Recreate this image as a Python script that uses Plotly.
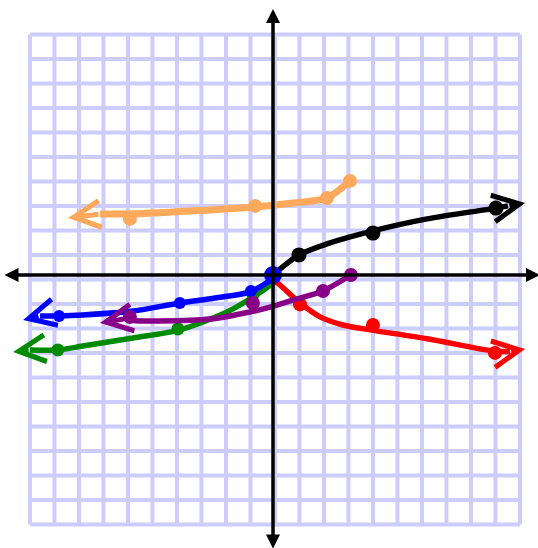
import plotly.graph_objects as go

# hand-drawn square-root curves, values in grid units
orange_x = [3.14, 2.2, 0.82, -0.73, -3.39, -5.84, -7.06]
orange_y = [3.84, 3.14, 2.94, 2.78, 2.61, 2.49, 2.49]
orange_dot_x = [3.14, 2.2, -0.73, -5.84]
orange_dot_y = [3.84, 3.14, 2.82, 2.29]
orange_tip = (-8.37, 2.33)

black_x = [0, 1.06, 2.2, 4.08, 6.29, 9.1, 9.59]
black_y = [0, 0.82, 1.27, 1.8, 2.29, 2.73, 2.82]
black_dot_x = [1.06, 4.08, 9.1]
black_dot_y = [0.82, 1.71, 2.73]
black_tip = (10.29, 2.94)

red_x = [0, 0.5, 1.1, 1.92, 2.86, 3.96, 6.29, 8.98, 9.67]
red_y = [-0.15, -0.6, -1.14, -1.71, -2.04, -2.24, -2.6, -3.1, -3.12]
red_dot_x = [0, 1.1, 4.08, 9.06]
red_dot_y = [-0.15, -1.2, -2.04, -3.18]
red_tip = (10.29, -3.02)

green_x = [0, -0.04, -0.82, -1.88, -3.8, -5.71, -7.76, -8.78, -9.92]
green_y = [0, -0.33, -0.9, -1.51, -2.24, -2.57, -2.9, -3.06, -3.06]
green_dot_x = [0, -0.82, -3.88, -8.78]
green_dot_y = [-0.1, -0.82, -2.2, -3.06]
green_tip = (-10.61, -3.14)

blue_x = [0, -0.12, -0.94, -2.37, -3.8, -5.71, -7.76, -8.73, -9.51]
blue_y = [0, -0.2, -0.69, -0.94, -1.14, -1.47, -1.63, -1.67, -1.67]
blue_dot_x = [-0.9, -3.8, -8.73]
blue_dot_y = [-0.65, -1.14, -1.67]
blue_tip = (-10.2, -1.84)

purple_x = [3.18, 2.04, 1.1, -0.12, -0.94, -2.57, -4.61, -5.71, -6.0]
purple_y = [0, -0.65, -0.94, -1.31, -1.51, -1.8, -1.88, -1.86, -1.78]
purple_dot_x = [3.18, 2.04, -0.82, -5.84]
purple_dot_y = [0, -0.65, -1.14, -1.71]
purple_tip = (-7.06, -1.96)

# pixel layout of the scanned sheet
W, H = 538, 548
S = 24.5            # px per grid unit
OX, OY = 273, 275   # where the axes cross

fig = go.Figure()


def add_curve(xs, ys, dx, dy, tip, color, width, dot_size):
    fig.add_trace(go.Scatter(x=xs, y=ys, mode="lines",
                             line=dict(color=color, width=width, shape="spline", smoothing=0.8),
                             hoverinfo="skip"))
    fig.add_trace(go.Scatter(x=dx, y=dy, mode="markers",
                             marker=dict(color=color, size=dot_size, line_width=0),
                             hoverinfo="skip"))
    fig.add_annotation(x=tip[0], y=tip[1], ax=xs[-1], ay=ys[-1],
                       xref="x", yref="y", axref="x", ayref="y", text="",
                       showarrow=True, arrowhead=5, arrowsize=1.05,
                       arrowwidth=5, arrowcolor=color)


add_curve(orange_x, orange_y, orange_dot_x, orange_dot_y, orange_tip, "#ffa95c", 7, 14)
add_curve(black_x, black_y, black_dot_x, black_dot_y, black_tip, "#000000", 5.5, 15)
add_curve(red_x, red_y, red_dot_x, red_dot_y, red_tip, "#ff0000", 5.5, 14)
add_curve(green_x, green_y, green_dot_x, green_dot_y, green_tip, "#008a00", 5.5, 13)
add_curve(blue_x, blue_y, blue_dot_x, blue_dot_y, blue_tip, "#0000ff", 5.5, 12)
add_curve(purple_x, purple_y, purple_dot_x, purple_dot_y, purple_tip, "#880088", 5.5, 14)

# big blue dot where everything starts
fig.add_trace(go.Scatter(x=[0], y=[0], mode="markers",
                         marker=dict(color="#0000ff", size=18), hoverinfo="skip"))

# lavender graph-paper grid, 20 x 20 cells, slightly off the axes
gx0, gy0 = -9.92, -10.18
grid = []
for k in range(21):
    grid.append(dict(type="line", x0=gx0 + k, x1=gx0 + k, y0=gy0, y1=gy0 + 20))
    grid.append(dict(type="line", y0=gy0 + k, y1=gy0 + k, x0=gx0, x1=gx0 + 20))
for g in grid:
    g.update(xref="x", yref="y", layer="below", line=dict(color="#ccccfd", width=4))

# black axes with arrowheads at both ends
x_left, x_right = (3 - OX) / S, (W + 2 - OX) / S
y_top, y_bot = (OY - 9) / S, (OY - H - 2) / S
for tip, tail in [((x_right, 0), (x_left, 0)), ((0, y_top), (0, y_bot))]:
    fig.add_annotation(x=tip[0], y=tip[1], ax=tail[0], ay=tail[1],
                       xref="x", yref="y", axref="x", ayref="y", text="",
                       showarrow=True, arrowside="end+start",
                       arrowhead=2, startarrowhead=2, arrowsize=0.8, startarrowsize=0.8,
                       arrowwidth=3.5, arrowcolor="black")

fig.update_layout(
    width=W, height=H,
    margin=dict(l=0, r=0, t=0, b=0),
    paper_bgcolor="white", plot_bgcolor="white",
    showlegend=False,
    shapes=grid,
    xaxis=dict(range=[-OX / S, (W - OX) / S], visible=False, fixedrange=True),
    yaxis=dict(range=[(OY - H) / S, OY / S], visible=False, fixedrange=True),
)

# drop the page's default body margin so the sheet fills the window
fig.write_html("out.html", config={"displayModeBar": False},
               post_script="document.body.style.margin='0';")
